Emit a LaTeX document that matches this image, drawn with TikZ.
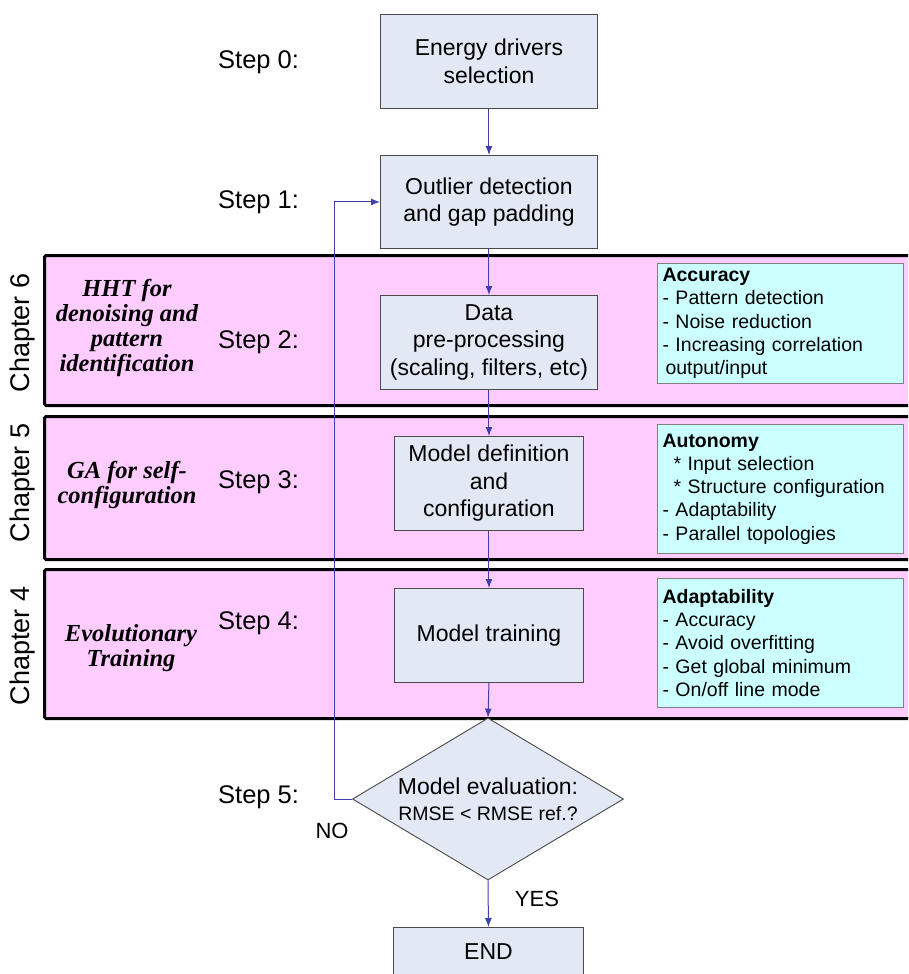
\documentclass[tikz,border=0pt]{standalone}
\usepackage{fontspec}
\setsansfont{Liberation Sans}
\newfontfamily\topicfont{Liberation Serif}
\usetikzlibrary{shapes.geometric,arrows.meta}
\definecolor{boxfill}{HTML}{E2E9F5}
\definecolor{bandpink}{HTML}{FFCCFF}
\definecolor{cyanfill}{HTML}{CCFFFF}
\definecolor{linkblue}{HTML}{4040A8}
\definecolor{boxline}{HTML}{4A4A4A}
\definecolor{noteline}{HTML}{808080}
\tikzset{
  stepbox/.style={draw=boxline, fill=boxfill, line width=0.9pt, align=center,
    font=\sffamily\fontsize{23}{27.5}\selectfont, inner sep=0pt, anchor=north west},
  conn/.style={draw=linkblue, line width=1pt, -{Latex[length=9pt,width=7pt]}},
  band/.style={draw=black, line width=3pt, fill=bandpink, rounded corners=1.5pt,
    anchor=north west, inner sep=0pt, minimum width=880pt},
  note/.style={draw=noteline, fill=cyanfill, line width=1pt, align=left,
    font=\sffamily\fontsize{19.5}{23.3}\selectfont, text width=236pt,
    inner xsep=5pt, inner ysep=0pt, anchor=north west},
  steplabel/.style={font=\sffamily\fontsize{25.5}{30}\selectfont, anchor=west, inner sep=0pt},
  chap/.style={font=\sffamily\fontsize{27}{30}\selectfont, rotate=90, inner sep=0pt},
  topic/.style={font=\topicfont\bfseries\itshape\fontsize{24.5}{25}\selectfont, align=center, inner sep=0pt},
  lbl/.style={font=\sffamily\fontsize{22}{26}\selectfont, inner sep=0pt}
}
\begin{document}
\begin{tikzpicture}[x=1pt,y=-1pt]
\clip (0,0) rectangle (908,974);
\fill[white] (0,0) rectangle (908,974);
% chapter bands
\node[band, minimum height=150pt] (b6) at (43,254) {};
\node[band, minimum height=143pt] (b5) at (43,415) {};
\node[band, minimum height=149pt] (b4) at (43,568) {};
% chapter labels
\node[chap] (c6) at (23,333) {Chapter 6};
\node[chap] (c5) at (23,483) {Chapter 5};
\node[chap] (c4) at (23,646) {Chapter 4};
% topics
\node[topic] (t6) at (127,328) {HHT for\\denoising and\\pattern\\identification};
\node[topic] (t5) at (127,485) {GA for self-\\configuration};
\node[topic] (t4) at (131,648) {Evolutionary\\Training};
% step labels
\node[steplabel] (l0) at (218,62) {Step 0:};
\node[steplabel] (l1) at (218,202) {Step 1:};
\node[steplabel] (l2) at (218,342) {Step 2:};
\node[steplabel] (l3) at (218,482) {Step 3:};
\node[steplabel] (l4) at (218,623) {Step 4:};
\node[steplabel] (l5) at (218,797) {Step 5:};
% loop coordinate
\coordinate (lp) at (334,500);
% process boxes
\node[stepbox, minimum width=217pt, minimum height=94pt] (s0) at (380,14) {Energy drivers\\selection};
\node[stepbox, minimum width=217pt, minimum height=93pt] (s1) at (380,155) {Outlier detection\\and gap padding};
\node[stepbox, minimum width=217pt, minimum height=94pt] (s2) at (380,295) {Data\\pre-processing\\(scaling, filters, etc)};
\node[stepbox, minimum width=189pt, minimum height=94pt] (s3) at (394,436) {Model definition\\and\\configuration};
\node[stepbox, minimum width=189pt, minimum height=94pt] (s4) at (394,588) {Model training};
\node[diamond, draw=boxline, fill=boxfill, line width=0.9pt, minimum width=271pt, minimum height=162pt,
  aspect=1.67, inner sep=0pt, align=center, font=\sffamily\fontsize{23}{26}\selectfont] (dia) at (488,799)
  {Model evaluation:\\\fontsize{19.5}{26}\selectfont RMSE < RMSE ref.?};
\node[stepbox, minimum width=190pt, minimum height=48pt] (end) at (393,927) {END};
% notes
\node[note, minimum height=120pt] (n6) at (657,263) {\textbf{Accuracy}\\- Pattern detection\\- Noise reduction\\- Increasing correlation\\\hspace*{3pt}output/input};
\node[note, minimum height=129pt] (n5) at (657,424) {\textbf{Autonomy}\\\hspace*{11pt}* Input selection\\\hspace*{11pt}* Structure configuration\\- Adaptability\\- Parallel topologies};
\node[note, minimum height=129pt] (n4) at (657,578) {\textbf{Adaptability}\\- Accuracy\\- Avoid overfitting\\- Get global minimum\\- On/off line mode};
% connectors
\draw[conn] (s0.south) -- (s1.north);
\draw[conn] (s1.south) -- (s2.north);
\draw[conn] (s2.south) -- (s3.north);
\draw[conn] (s3.south) -- (s4.north);
\draw[conn] (s4.south) -- (dia.north);
\draw[conn] (dia.south) -- (end.north);
\draw[conn] (dia.west) -- (dia.west -| lp) |- (s1.west);
% branch labels
\node[lbl] (no) at (332,831) {NO};
\node[lbl] (yes) at (537,899) {YES};
\end{tikzpicture}
\end{document}
